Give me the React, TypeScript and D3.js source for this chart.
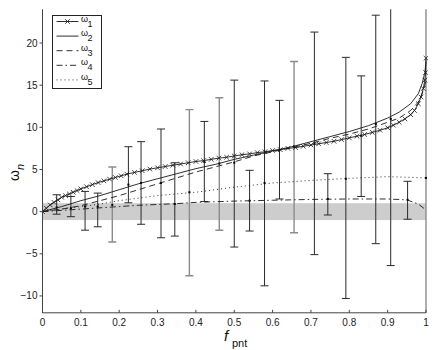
import React from 'react';
import * as d3 from 'd3';

// f values and omega values
const w1F = [0, 0.01, 0.02, 0.03, 0.04, 0.05, 0.06, 0.07, 0.08, 0.09, 0.1, 0.115, 0.13, 0.145, 0.16, 0.175, 0.19, 0.205, 0.22, 0.24, 0.26, 0.28, 0.3, 0.32, 0.34, 0.36, 0.38, 0.4, 0.42, 0.44, 0.46, 0.48, 0.5, 0.52, 0.54, 0.56, 0.58, 0.6, 0.62, 0.64, 0.66, 0.68, 0.7, 0.72, 0.74, 0.76, 0.78, 0.8, 0.82, 0.84, 0.86, 0.88, 0.9, 0.915, 0.93, 0.945, 0.96, 0.97, 0.98, 0.987, 0.993, 0.997, 0.999, 1];
const w1 = [0, 0.4, 0.8, 1.1, 1.4, 1.7, 1.9, 2.1, 2.3, 2.5, 2.7, 2.95, 3.2, 3.45, 3.65, 3.85, 4.05, 4.25, 4.45, 4.65, 4.85, 5.05, 5.2, 5.35, 5.5, 5.65, 5.8, 5.95, 6.05, 6.2, 6.35, 6.45, 6.6, 6.75, 6.85, 7.0, 7.1, 7.25, 7.35, 7.5, 7.6, 7.75, 7.9, 8.05, 8.2, 8.35, 8.55, 8.75, 8.95, 9.15, 9.4, 9.65, 9.95, 10.25, 10.6, 11.0, 11.5, 12.0, 12.8, 13.6, 14.6, 15.6, 16.5, 18.2];

const w2F = [0, 0.05, 0.1, 0.15, 0.2, 0.25, 0.3, 0.35, 0.4, 0.45, 0.5, 0.55, 0.6, 0.65, 0.7, 0.75, 0.8, 0.85, 0.9, 0.93, 0.96, 0.98, 0.99, 0.997, 1];
const w2 = [0, 0.6, 1.3, 1.9, 2.6, 3.3, 3.9, 4.5, 5.1, 5.6, 6.2, 6.7, 7.2, 7.7, 8.3, 8.9, 9.5, 10.2, 11.1, 11.8, 12.8, 14.0, 15.2, 16.5, 17.8];

const w3F = [0, 0.05, 0.1, 0.15, 0.2, 0.25, 0.3, 0.35, 0.4, 0.45, 0.5, 0.55, 0.6, 0.65, 0.7, 0.75, 0.8, 0.85, 0.9, 0.93, 0.96, 0.98, 0.99, 1];
const w3 = [0, 0.3, 0.7, 1.3, 1.9, 2.6, 3.3, 4.0, 4.7, 5.3, 5.9, 6.6, 7.1, 7.6, 8.1, 8.7, 9.2, 9.8, 10.6, 11.1, 12.0, 13.0, 14.0, 15.5];

const w4F = [0, 0.05, 0.1, 0.15, 0.2, 0.25, 0.3, 0.35, 0.4, 0.5, 0.6, 0.7, 0.8, 0.9, 0.95, 0.98, 1];
const w4 = [0, 0.15, 0.3, 0.45, 0.6, 0.75, 0.85, 0.95, 1.1, 1.25, 1.35, 1.45, 1.5, 1.5, 1.4, 0.9, 0.2];

const w5F = [0, 0.05, 0.1, 0.15, 0.2, 0.25, 0.3, 0.35, 0.4, 0.5, 0.6, 0.7, 0.8, 0.9, 1];
const w5 = [0, 0.3, 0.6, 0.9, 1.3, 1.6, 1.9, 2.1, 2.3, 2.9, 3.4, 3.7, 3.95, 4.15, 4.0];

// error bars: position, mean, low, high, grey or not
const barF = [0.037, 0.074, 0.111, 0.144, 0.182, 0.224, 0.257, 0.309, 0.345, 0.383, 0.422, 0.461, 0.5, 0.54, 0.579, 0.618, 0.656, 0.709, 0.744, 0.791, 0.831, 0.869, 0.908, 0.952, 1];
const barMean = [0.5, 0.4, 0.6, 0.6, 0.8, 3.2, 3.4, 3.4, 0.9, 2.3, 5.9, 5.7, 5.8, 1.3, 3.4, 7.3, 7.7, 8.1, 1.5, 3.9, 9.0, 10.4, 11.0, 1.4, 4.0];
const barLo = [-0.3, -0.6, -2.2, -1.8, -3.6, 1.05, -1.5, -3.1, -2.9, -7.6, 1.2, -2.2, -4.2, -2.3, -8.8, 1.5, -2.5, -5.1, -0.4, -10.3, 1.8, -3.8, -6.4, -0.9, -14];
const barHi = [2.0, 1.8, 2.4, 2.2, 5.3, 7.7, 8.3, 9.8, 5.8, 12.1, 10.7, 13.5, 15.6, 4.9, 15.5, 13.2, 17.8, 21.3, 4.5, 18.3, 16.1, 23.3, 26, 3.6, 30];
const barGrey = [false, false, false, false, true, false, false, false, false, true, false, true, false, false, false, false, true, false, false, false, false, false, false, false, true];

const xTicks = [0, 0.1, 0.2, 0.3, 0.4, 0.5, 0.6, 0.7, 0.8, 0.9, 1];
const yTicks = [-10, -5, 0, 5, 10, 15, 20];
const band = [-1, 1];

const legendLabels = ['1', '2', '3', '4', '5'];
const dashes = ['none', 'none', '6 4', '6 3 1.5 3', '1 3'];

export default function App() {
  const W = 436;
  const H = 350;
  const x = d3.scaleLinear().domain([0, 1]).range([42.5, 426]);
  const y = d3.scaleLinear().domain([-12, 24]).range([312.8, 9.3]);

  const line = d3
    .line<[number, number]>()
    .x(d => x(d[0]))
    .y(d => y(d[1]));

  const series = [
    w1F.map((f, i) => [f, w1[i]] as [number, number]),
    w2F.map((f, i) => [f, w2[i]] as [number, number]),
    w3F.map((f, i) => [f, w3[i]] as [number, number]),
    w4F.map((f, i) => [f, w4[i]] as [number, number]),
    w5F.map((f, i) => [f, w5[i]] as [number, number]),
  ];

  const font = 'Helvetica, "Liberation Sans", Arial, sans-serif';
  const axisCol = '#444';
  const ink = '#1a1a1a';

  const [x0, x1] = x.range();
  const [yb, yt] = y.range();

  return (
    <svg
      width={W}
      height={H}
      style={{ position: 'absolute', left: 0, top: 0, background: '#fff' }}
      fontFamily={font}
    >
      <defs>
        <clipPath id="plot">
          <rect x={x0} y={yt} width={x1 - x0 + 2} height={yb - yt} />
        </clipPath>
      </defs>

      <g clipPath="url(#plot)">
        {/* grey band */}
        <rect
          x={x(0)}
          y={y(band[1])}
          width={x(1) - x(0)}
          height={y(band[0]) - y(band[1])}
          fill="#cdcdcd"
        />

        {/* error bars */}
        {barF.map((f, i) => {
          const c = barGrey[i] ? '#8c8c8c' : '#2a2a2a';
          const px = x(f);
          return (
            <g key={i} stroke={c} strokeWidth={barGrey[i] ? 1.4 : 1}>
              <line x1={px} x2={px} y1={y(barLo[i])} y2={y(barHi[i])} />
              <line x1={px - 4} x2={px + 4} y1={y(barLo[i])} y2={y(barLo[i])} />
              <line x1={px - 4} x2={px + 4} y1={y(barHi[i])} y2={y(barHi[i])} />
              <rect x={px - 1} y={y(barMean[i]) - 1} width={2} height={2} fill="#000" stroke="none" />
            </g>
          );
        })}

        {/* curves */}
        {series.map((s, i) => (
          <path
            key={i}
            d={line(s) || ''}
            fill="none"
            stroke={ink}
            strokeWidth={0.9}
            strokeDasharray={dashes[i]}
          />
        ))}

        {/* x markers on omega 1 */}
        {series[0].map((d, i) => (
          <path
            key={i}
            d={`M${x(d[0]) - 2.3},${y(d[1]) - 2.3}L${x(d[0]) + 2.3},${y(d[1]) + 2.3}M${x(d[0]) - 2.3},${y(d[1]) + 2.3}L${x(d[0]) + 2.3},${y(d[1]) - 2.3}`}
            stroke={ink}
            strokeWidth={0.8}
            fill="none"
          />
        ))}
      </g>

      {/* axes */}
      <line x1={x0} x2={x0} y1={yt} y2={yb} stroke={axisCol} />
      <line x1={x0} x2={x1} y1={yb} y2={yb} stroke={axisCol} />
      {yTicks.map(t => (
        <g key={t}>
          <line x1={x0 - 3} x2={x0} y1={y(t)} y2={y(t)} stroke={axisCol} />
          <text x={x0 - 5} y={y(t) + 3.5} fontSize={10} textAnchor="end" fill="#222">
            {t < 0 ? `\u2212${-t}` : t}
          </text>
        </g>
      ))}
      {xTicks.map(t => (
        <g key={t}>
          <line x1={x(t)} x2={x(t)} y1={yb} y2={yb - 3} stroke={axisCol} />
          <text x={x(t)} y={yb + 13} fontSize={10} textAnchor="middle" fill="#222">
            {t}
          </text>
        </g>
      ))}

      {/* axis labels */}
      <text x={224} y={341} fontSize={15} fontStyle="italic" fill="#111">
        f
      </text>
      <text x={232} y={347} fontSize={11} fill="#111">
        pnt
      </text>
      <g transform="translate(19,181) rotate(-90)">
        <text x={0} y={0} fontSize={14} fill="#111">
          ω
        </text>
        <text x={11} y={5} fontSize={11} fontStyle="italic" fill="#111">
          n
        </text>
      </g>

      {/* legend */}
      <rect x={52.5} y={15.5} width={49} height={73} fill="#fff" stroke="#222" />
      {legendLabels.map((lab, i) => {
        const ly = 21.5 + i * 14.6;
        return (
          <g key={lab}>
            <line
              x1={56.5}
              x2={78.5}
              y1={ly}
              y2={ly}
              stroke={ink}
              strokeWidth={0.9}
              strokeDasharray={dashes[i]}
            />
            {i === 0 && (
              <path
                d={`M65.2,${ly - 2.3}L69.8,${ly + 2.3}M65.2,${ly + 2.3}L69.8,${ly - 2.3}`}
                stroke={ink}
                strokeWidth={0.8}
              />
            )}
            <text x={81} y={ly} fontSize={9} fill="#111">
              ω
            </text>
            <text x={87.5} y={ly + 5} fontSize={9} fill="#111">
              {lab}
            </text>
          </g>
        );
      })}
    </svg>
  );
}
